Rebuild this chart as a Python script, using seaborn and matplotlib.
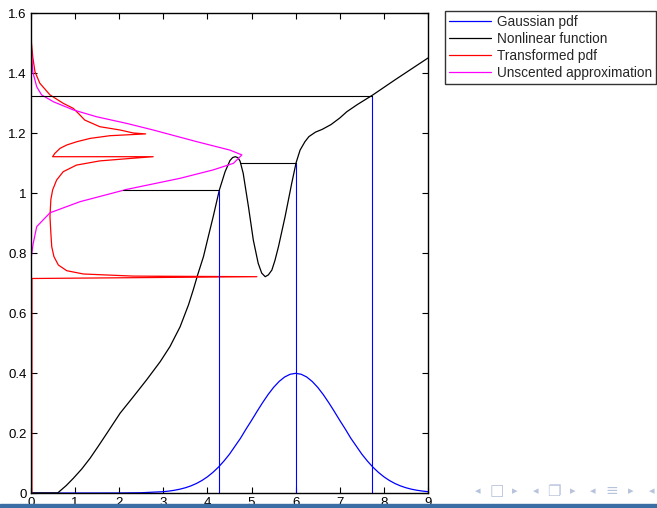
import numpy as np
import matplotlib
matplotlib.use("Agg")
import matplotlib.pyplot as plt
import seaborn as sns

# Gaussian pdf of the input (x -> density)
gauss_x = [0, 0.5, 1, 1.5, 2, 2.5, 3, 3.125, 3.25, 3.375, 3.5, 3.625, 3.75,
           3.875, 4, 4.125, 4.25, 4.375, 4.5, 4.625, 4.75, 4.875, 5, 5.125,
           5.25, 5.375, 5.5, 5.625, 5.75, 5.875, 6, 6.125, 6.25, 6.375, 6.5,
           6.625, 6.75, 6.875, 7, 7.125, 7.25, 7.375, 7.5, 7.625, 7.75, 7.875,
           8, 8.125, 8.25, 8.375, 8.5, 8.625, 8.75, 8.875, 9]
gauss_y = [0, 0, 0, 0, 0.0001, 0.0009, 0.0044, 0.0064, 0.0091, 0.0127, 0.0175,
           0.0237, 0.0317, 0.0417, 0.054, 0.0689, 0.0863, 0.1067, 0.1295,
           0.1561, 0.1826, 0.2131, 0.242, 0.2721, 0.3011, 0.3282, 0.3521,
           0.3718, 0.3867, 0.3958, 0.3989, 0.3958, 0.3867, 0.3718, 0.3521,
           0.3282, 0.3011, 0.2721, 0.242, 0.2131, 0.1826, 0.1561, 0.1295,
           0.1067, 0.0863, 0.0689, 0.054, 0.0417, 0.0317, 0.0237, 0.0175,
           0.0127, 0.0091, 0.0064, 0.0044]

# nonlinear function
func_x = [0, 0.6, 0.62, 0.8, 0.96, 1.15, 1.34, 1.53, 1.72, 2.02, 2.32, 2.62,
          2.93, 3.15, 3.38, 3.57, 3.68, 3.78, 3.91, 4.02, 4.13, 4.27, 4.40,
          4.51, 4.57, 4.63, 4.69, 4.74, 4.81, 4.93, 5.04, 5.15, 5.23, 5.31,
          5.38, 5.46, 5.53, 5.61, 5.76, 5.91, 6.01, 6.10, 6.21, 6.3, 6.45,
          6.6, 6.8, 7.0, 7.16, 7.4, 7.75, 8.25, 9.0]
func_y = [0, 0, 0.002, 0.025, 0.049, 0.08, 0.116, 0.157, 0.199, 0.266, 0.321,
          0.377, 0.438, 0.488, 0.554, 0.627, 0.678, 0.728, 0.788, 0.855,
          0.921, 1.01, 1.071, 1.108, 1.118, 1.121, 1.118, 1.106, 1.066, 0.954,
          0.843, 0.766, 0.733, 0.721, 0.727, 0.743, 0.775, 0.821, 0.921,
          1.032, 1.101, 1.143, 1.171, 1.188, 1.203, 1.212, 1.228, 1.25, 1.271,
          1.295, 1.327, 1.377, 1.45]

# transformed pdf (density on x, value on y)
tpdf_x = [0, 0.02, 0.02, 5.12, 2.32, 1.19, 0.81, 0.62, 0.52, 0.47, 0.45,
          0.43, 0.45, 0.49, 0.58, 0.73, 1.03, 1.56, 2.32, 2.77, 0.49, 0.54,
          0.66, 0.81, 1.04, 1.34, 1.79, 2.6, 2.32, 2.02, 1.56, 1.22, 1.07,
          0.96, 0.73, 0.43, 0.2, 0.09, 0.04, 0.01, 0.0]
tpdf_y = [0, 0.0, 0.715, 0.721, 0.723, 0.73, 0.741, 0.76, 0.788, 0.821, 0.867,
          0.922, 0.978, 1.01, 1.043, 1.071, 1.093, 1.107, 1.116, 1.121, 1.121,
          1.132, 1.149, 1.16, 1.171, 1.182, 1.191, 1.197, 1.2, 1.21, 1.221,
          1.243, 1.266, 1.282, 1.299, 1.327, 1.366, 1.404, 1.454, 1.5, 1.6]

# unscented (gaussian) approximation of the output pdf
ukf_x = [0, 0, 0.05, 0.13, 0.43, 1.11, 2.17, 3.38, 4.13, 4.59, 4.78, 4.51,
         3.76, 2.77, 2.17, 1.49, 0.96, 0.51, 0.24, 0.13, 0.04, 0]
ukf_y = [0.72, 0.78, 0.832, 0.888, 0.934, 0.971, 1.012, 1.049, 1.077, 1.099,
         1.127, 1.143, 1.171, 1.21, 1.232, 1.254, 1.277, 1.304, 1.327, 1.354,
         1.404, 1.5]

# sigma points and their transformed values
sigma_x = [4.27, 6.0, 7.73]
sigma_y = [1.01, 1.10, 1.325]
sigma_line_start = [2.09, 4.74, 0.0]

sns.set_style("ticks")
plt.rcParams['font.family'] = ['Liberation Sans', 'DejaVu Sans']

fig = plt.figure(figsize=(6.57, 5.08), dpi=100)
ax = fig.add_axes([31/657, 15/508, 397/657, 480/508])

lw = 0.8
sns.lineplot(x=gauss_x, y=gauss_y, color='#0000ff', lw=lw, ax=ax,
             sort=False, estimator=None, label='Gaussian pdf')
sns.lineplot(x=func_x, y=func_y, color='black', lw=lw, ax=ax,
             sort=False, estimator=None, label='Nonlinear function')
sns.lineplot(x=tpdf_x, y=tpdf_y, color='#ff0000', lw=lw, ax=ax,
             sort=False, estimator=None, label='Transformed pdf')
sns.lineplot(x=ukf_x, y=ukf_y, color='#ff00ff', lw=1.4, ax=ax,
             sort=False, estimator=None, label='Unscented approximation')

for sx, sy, x0 in zip(sigma_x, sigma_y, sigma_line_start):
    ax.plot([sx, sx], [0, sy], color='#0000ff', lw=lw)
    ax.plot([x0, sx], [sy, sy], color='black', lw=lw)

ax.set_xlim(0, 9)
ax.set_ylim(0, 1.6)
ax.set_xticks(range(10))
ax.set_yticks([0, 0.2, 0.4, 0.6, 0.8, 1, 1.2, 1.4, 1.6])
ax.set_yticklabels(['0', '0.2', '0.4', '0.6', '0.8', '1', '1.2', '1.4', '1.6'])
ax.tick_params(direction='in', top=True, right=True, length=4, width=0.8,
               labelsize=9.5, pad=3, colors='black')
for s in ax.spines.values():
    s.set_visible(True)
    s.set_linewidth(1.0)
    s.set_color('black')

ax.get_legend().remove()
handles, labels = ax.get_legend_handles_labels()
for h in handles:
    h.set_linewidth(0.9)
leg = fig.legend(handles, labels, loc='upper left',
                 bbox_to_anchor=(445/657, 1 - 11/508), fontsize=9.8,
                 frameon=True, fancybox=False, handlelength=3.1,
                 handletextpad=0.4, labelspacing=0.22, borderpad=0.3,
                 borderaxespad=0)
leg.get_frame().set_edgecolor('black')
leg.get_frame().set_linewidth(1.0)

# beamer navigation symbols
nav_syms = ['◂', '□', '▸', '◂', '❐', '▸', '◂', '≡', '▸', '◂']
nav_pos = [478, 497, 515, 536, 554, 573, 593, 612, 631, 652]
for sym, px in zip(nav_syms, nav_pos):
    big = sym in ('□', '❐', '≡')
    fig.text(px/657, 1 - 491/508, sym, color='#b7c3dc',
             fontsize=11 if big else 8, va='center', ha='center',
             family=['DejaVu Sans'])
fig.patches.append(plt.Rectangle((0, 0), 1, 4/508, transform=fig.transFigure,
                                 color='#3c6ea6', zorder=5))

fig.savefig('out.png', dpi=100)
